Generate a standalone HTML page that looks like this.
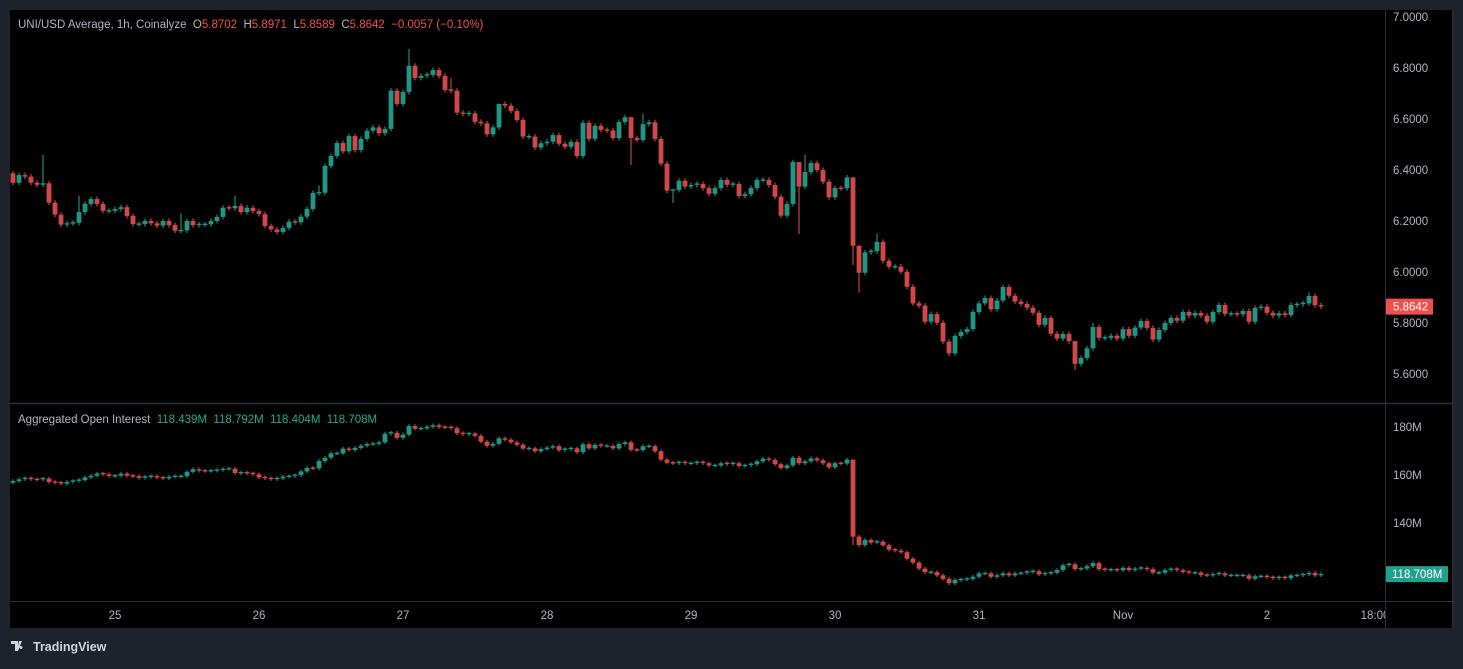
<!DOCTYPE html>
<html><head><meta charset="utf-8"><style>
html,body{margin:0;padding:0;background:#1e222d;width:1463px;height:664px;overflow:hidden;font-family:"Liberation Sans",sans-serif}
#wrap{position:absolute;left:0;top:0;width:1463px;height:664px}
svg text{font-family:"Liberation Sans",sans-serif;white-space:pre}
</style></head><body>
<div id="wrap">
<svg id="c" width="1463" height="664" xmlns="http://www.w3.org/2000/svg">
<rect x="10" y="10" width="1443" height="618" fill="#000"/>
<line x1="10" y1="403.5" x2="1452" y2="403.5" stroke="#2a2e39" stroke-width="1.5"/>
<line x1="10" y1="601.5" x2="1452" y2="601.5" stroke="#2a2e39" stroke-width="1"/>
<line x1="1385.5" y1="10" x2="1385.5" y2="628" stroke="#2a2e39" stroke-width="1"/>
<rect x="1452" y="10" width="1.5" height="618" fill="#2a2e39"/>
<g id="price-candles"></g>
<g id="oi-candles"></g>
<g id="axes"></g>
<text x="18" y="28" font-size="11.5" fill="#b2b5be" xml:space="preserve">UNI/USD Average, 1h, Coinalyze  O<tspan fill="#f0504d">5.8702</tspan>  H<tspan fill="#f0504d">5.8971</tspan>  L<tspan fill="#f0504d">5.8589</tspan>  C<tspan fill="#f0504d">5.8642</tspan>  <tspan fill="#f0504d">−0.0057 (−0.10%)</tspan></text>
<text x="18" y="423" font-size="11.5" fill="#b2b5be" xml:space="preserve">Aggregated Open Interest  <tspan fill="#22ab94">118.439M</tspan>  <tspan fill="#22ab94">118.792M</tspan>  <tspan fill="#22ab94">118.404M</tspan>  <tspan fill="#22ab94">118.708M</tspan></text>
<g>
<path d="M11 641h7v10h-3v-7h-4z M19 641l3 0 -4 10h-1z M21 646a1.5 1.5 0 1 0 0.01 0z" fill="#d1d4dc"/>
<text x="33" y="651" font-size="12.5" font-weight="bold" fill="#d1d4dc">TradingView</text>
</g>
</svg>
</div>
<script>
const priceCloses=[6.350,6.380,6.374,6.350,6.342,6.348,6.272,6.225,6.186,6.191,6.193,6.235,6.267,6.286,6.267,6.240,6.240,6.247,6.254,6.220,6.188,6.188,6.200,6.191,6.182,6.200,6.184,6.162,6.163,6.200,6.184,6.187,6.187,6.200,6.216,6.252,6.250,6.259,6.235,6.252,6.239,6.227,6.180,6.167,6.157,6.173,6.197,6.195,6.217,6.247,6.310,6.311,6.416,6.455,6.506,6.473,6.533,6.478,6.522,6.554,6.567,6.544,6.561,6.711,6.659,6.706,6.809,6.761,6.769,6.773,6.792,6.769,6.714,6.711,6.625,6.620,6.622,6.589,6.583,6.540,6.567,6.659,6.652,6.631,6.596,6.531,6.531,6.488,6.505,6.511,6.537,6.503,6.491,6.510,6.455,6.585,6.522,6.573,6.557,6.555,6.525,6.588,6.607,6.525,6.518,6.580,6.587,6.522,6.425,6.319,6.322,6.358,6.335,6.341,6.345,6.329,6.307,6.329,6.361,6.342,6.345,6.298,6.305,6.329,6.361,6.361,6.341,6.295,6.221,6.267,6.431,6.335,6.392,6.427,6.400,6.354,6.293,6.329,6.328,6.371,6.103,5.997,6.077,6.081,6.118,6.044,6.021,6.021,6.001,5.942,5.877,5.868,5.805,5.835,5.801,5.727,5.681,5.749,5.765,5.776,5.843,5.877,5.898,5.854,5.888,5.941,5.907,5.884,5.875,5.860,5.840,5.793,5.820,5.758,5.739,5.757,5.729,5.640,5.663,5.701,5.784,5.742,5.742,5.750,5.739,5.776,5.750,5.782,5.808,5.781,5.735,5.773,5.800,5.820,5.809,5.843,5.829,5.839,5.829,5.805,5.843,5.871,5.836,5.836,5.834,5.847,5.805,5.859,5.864,5.840,5.829,5.838,5.831,5.871,5.873,5.877,5.906,5.870,5.8642];
const priceFirstOpen=6.387;
const priceHighSpikes={5:6.459,11:6.30,28:6.23,37:6.30,51:6.34,66:6.875,73:6.76,81:6.66,103:6.42,105:6.62,110:6.27,130:6.44,131:6.149,132:6.46,140:6.027,141:5.919,144:6.15,177:5.62,180:5.80,216:5.92};
const priceLowSpikes={103:6.42,131:6.149,140:6.027,141:5.919,177:5.615,156:5.67,110:6.27};
const oiCloses=[157.5,158.2,158.6,158.2,158.1,158.5,157.1,156.8,156.4,157.1,157.5,157.9,159.0,159.7,160.6,160.3,159.6,159.7,160.6,159.7,159.5,158.8,159.2,159.5,158.9,158.6,159.3,159.5,159.5,161.3,162.4,161.8,161.7,161.8,162.1,162.6,162.6,160.8,161.0,160.7,160.3,159.0,158.6,158.3,158.6,159.3,159.5,159.9,161.5,162.9,162.8,165.8,167.2,169.0,169.0,171.0,170.4,171.3,172.2,172.9,173.0,173.6,177.2,177.6,175.5,176.8,180.4,179.3,179.4,180.1,180.7,180.0,179.9,179.5,177.4,177.0,177.3,176.3,173.9,172.2,173.0,175.3,174.7,173.6,172.6,171.0,171.1,169.9,170.8,171.4,172.0,170.3,170.8,171.1,169.5,172.8,171.1,172.5,172.1,172.1,171.1,172.9,173.6,170.5,170.4,172.0,172.0,169.9,166.4,165.1,164.9,165.3,164.9,164.9,165.3,164.9,164.0,164.0,164.9,164.5,164.9,163.8,164.0,164.5,165.7,166.8,166.3,164.5,162.9,164.0,167.2,164.9,165.7,166.9,166.1,164.9,163.2,164.9,164.8,166.4,134.3,130.8,132.9,131.8,132.2,130.7,128.9,128.5,127.8,125.1,123.5,121.0,119.5,119.5,118.2,116.7,114.9,116.3,116.5,116.7,117.6,119.0,119.0,117.6,118.2,119.0,118.2,119.0,119.1,119.6,119.9,118.6,119.0,119.3,120.4,122.4,122.8,120.8,121.0,122.0,123.3,120.8,120.5,120.6,120.3,121.3,120.4,121.0,121.3,120.8,119.3,119.3,120.4,120.8,120.3,119.6,119.3,119.3,118.3,118.2,118.75,119.0,118.2,118.2,118.2,118.2,116.8,117.8,117.8,117.4,117.0,117.4,117.0,118.2,118.2,118.6,119.2,118.2,118.708];
const oiFirstOpen=156.8;
const oiHighSpikes={140:163.75};
const oiLowSpikes={140:130.8};
const priceTicks=[7.0,6.8,6.6,6.4,6.2,6.0,5.8,5.6];
const oiTicks=[180,160,140];
const dayLabels=["25","26","27","28","29","30","31","Nov","2","18:00"];
const dayLabelIdx=[17,41,65,89,113,137,161,185,209,227];

const NS="http://www.w3.org/2000/svg";
const UP="#1f9784", DN="#d24848";
function xAt(i){return 13+6*i;}
function yPrice(p){return 272-(p-6)*255;}
function yOI(v){return 475-(v-160)*2.4;}
function mk(tag,attrs,parent){const e=document.createElementNS(NS,tag);for(const k in attrs)e.setAttribute(k,attrs[k]);parent.appendChild(e);return e;}

function drawCandles(closes,firstOpen,hi,lo,yf,group,pad,nameBase){
  let prev=firstOpen;
  closes.forEach((c,i)=>{
    const o=prev;prev=c;
    const col=c>=o?UP:DN;
    const x=xAt(i);
    const yo=yf(o),yc=yf(c);
    let top=Math.min(yo,yc),bot=Math.max(yo,yc);
    const wt=hi[i]!==undefined?Math.min(yf(hi[i]),top):top-pad;
    const wb=lo[i]!==undefined?Math.max(yf(lo[i]),bot):bot+pad;
    const g=mk('g',{},group);
    
    
    mk('line',{x1:x,x2:x,y1:wt,y2:wb,stroke:col,'stroke-width':1.1},g);
    if(bot-top<1.2){top-=0.6;bot=top+1.4;}
    mk('rect',{x:x-2.4,y:top,width:4.8,height:bot-top,fill:col},g);
  });
}
drawCandles(priceCloses,priceFirstOpen,priceHighSpikes,priceLowSpikes,yPrice,document.getElementById('price-candles'),2.5,'price-candle');
drawCandles(oiCloses,oiFirstOpen,oiHighSpikes,oiLowSpikes,yOI,document.getElementById('oi-candles'),1.8,'oi-candle');

const ax=document.getElementById('axes');
priceTicks.forEach(t=>{
  const tx=mk('text',{x:1393,y:yPrice(t)+4,'font-size':11.5,fill:'#b2b5be'},ax);
  tx.textContent=t.toFixed(4);
  
  
});
oiTicks.forEach(t=>{
  const tx=mk('text',{x:1393,y:yOI(t)+4,'font-size':11.5,fill:'#b2b5be'},ax);
  tx.textContent=t+'M';
  
  
});
const clip=mk('clipPath',{id:'tclip'},ax);
mk('rect',{x:10,y:601,width:1375,height:27},clip);
const tg=mk('g',{'clip-path':'url(#tclip)'},ax);
dayLabels.forEach((d,k)=>{
  const tx=mk('text',{x:xAt(dayLabelIdx[k]),y:619,'font-size':11.5,fill:'#b2b5be','text-anchor':'middle'},tg);
  tx.textContent=d;
  
  
});
const lp=priceCloses[priceCloses.length-1];
const lpg=mk('g',{},ax);


mk('rect',{x:1386,y:yPrice(lp)-8,width:47,height:16,fill:'#f0504d',rx:1},lpg);
const lpt=mk('text',{x:1393,y:yPrice(lp)+4,'font-size':11.5,fill:'#fff'},lpg);
lpt.textContent=lp.toFixed(4);
const lo=oiCloses[oiCloses.length-1];
const log=mk('g',{},ax);


mk('rect',{x:1386,y:yOI(lo)-8,width:62,height:16,fill:'#22a08f',rx:1},log);
const lot=mk('text',{x:1392,y:yOI(lo)+4,'font-size':11.5,fill:'#fff'},log);
lot.textContent=lo.toFixed(3)+'M';
</script>
</body></html>
